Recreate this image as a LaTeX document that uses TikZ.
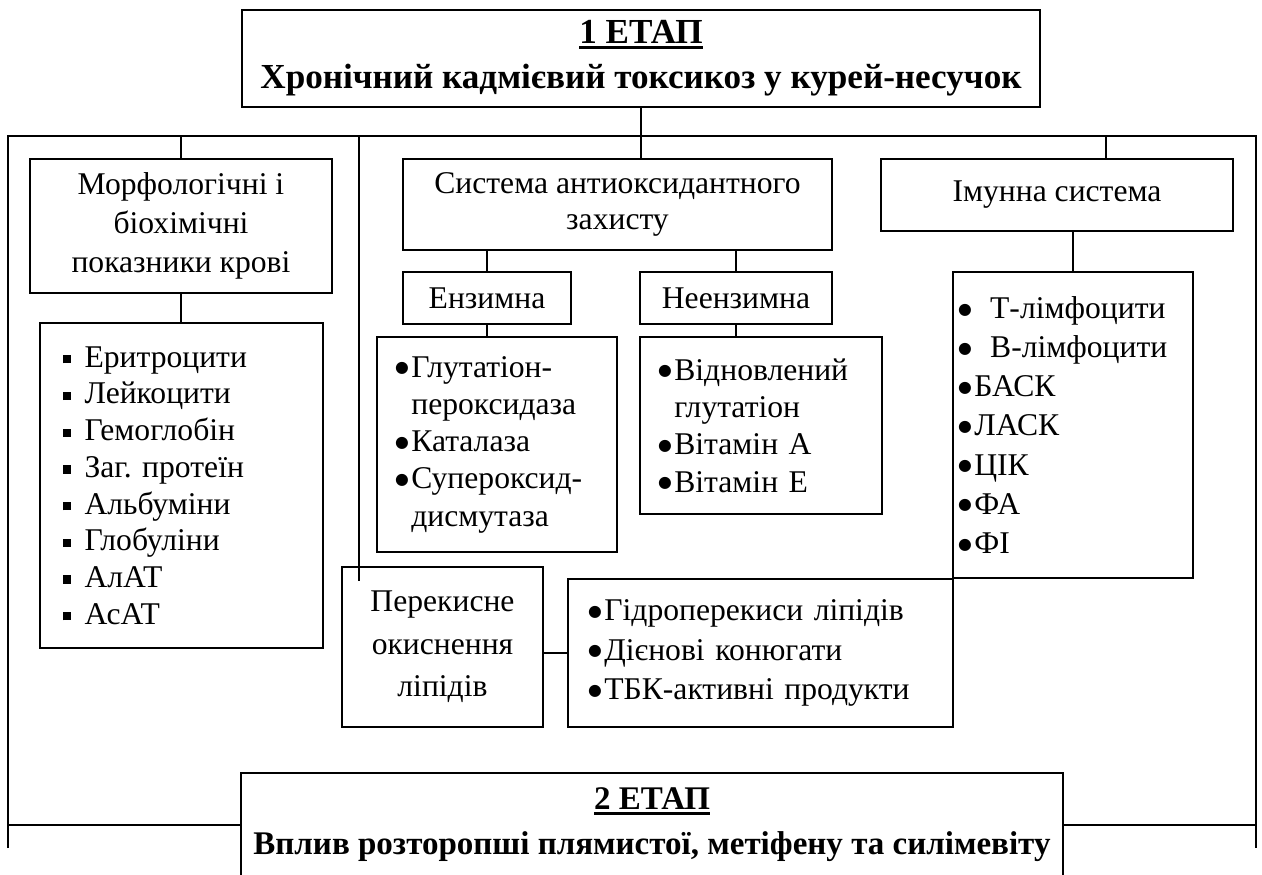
\documentclass[tikz,border=0pt]{standalone}
\usepackage{fontspec}
\setmainfont{Liberation Serif}
\newfontfamily\symfont{DejaVu Sans}
\frenchspacing

\newcommand{\sqbul}{\makebox[0.68em][l]{\raisebox{0.12em}{\rule{0.26em}{0.26em}}}}
\newcommand{\dotbul}{\raisebox{0.14em}{\symfont\fontsize{9}{9}\selectfont ●}\hspace{0.08em}}
\newcommand{\hang}{\phantom{\dotbul}}
\newcommand{\thickul}[1]{\setbox0\hbox{#1}\rlap{\rule[-0.14em]{\wd0}{0.08em}}\box0}

\tikzset{
	box/.style={rectangle, draw, line width=1.1pt, inner sep=0pt, align=center, font=\fontsize{18}{22.2}\selectfont},
	listbox/.style={box, align=left},
	titlebox/.style={box, font=\bfseries\fontsize{20}{25.6}\selectfont},
	link/.style={line width=1.1pt}
}

\begin{document}
\begin{tikzpicture}[x=0.02cm, y=-0.02cm]
	\useasboundingbox (0,0) rectangle (1262,875);

	\node[titlebox, minimum width=15.96cm, minimum height=1.94cm](stage1Box) at (641,58.5){\thickul{1 ЕТАП}\\Хронічний кадмієвий токсикоз у курей-несучок};
	\node[titlebox, draw=none, minimum width=16.4cm, minimum height=2.04cm, font=\bfseries\fontsize{18.8}{25.6}\selectfont](stage2Box) at (652,825){\thickul{2 ЕТАП}\\Вплив розторопші плямистої, метіфену та силімевіту};
	\draw[link] (stage2Box.south west) -- (stage2Box.north west) -- (stage2Box.north east) -- (stage2Box.south east);

	% outer frame
	\coordinate(busLeft) at (8,136);
	\coordinate(busRight) at (1256,136);
	\coordinate(baseLeft) at (8,848);
	\coordinate(baseRight) at (1256,848);
	\draw[link] (baseLeft) -- (busLeft) -- (busRight) -- (baseRight);
	\draw[link] (baseLeft |- stage2Box.west) -- (stage2Box.west);
	\draw[link] (stage2Box.east) -- (baseRight |- stage2Box.east);

	% draw blood boxes
	\node[box, minimum width=6.04cm, minimum height=2.68cm](morphBox) at (181,226){Морфологічні і\\біохімічні\\показники крові};
	\node[listbox, minimum width=5.66cm, minimum height=6.5cm, inner xsep=0.46cm, text width=4.74cm, font=\fontsize{18}{20.9}\selectfont](morphList) at (181.5,485.5){\sqbul Еритроцити\\\sqbul Лейкоцити\\\sqbul Гемоглобін\\\sqbul Заг. протеїн\\\sqbul Альбуміни\\\sqbul Глобуліни\\\sqbul АлАТ\\\sqbul АсАТ};
	\draw[link] (morphBox.north |- busLeft) -- (morphBox.north);
	\draw[link] (morphBox.south) -- (morphBox.south |- morphList.north);

	% draw antioxidant boxes
	\node[box, minimum width=8.58cm, minimum height=1.82cm, font=\fontsize{18}{20.5}\selectfont](antioxBox) at (617.5,204.5){Система антиоксидантного\\захисту};
	\node[box, minimum width=3.36cm, minimum height=1.04cm](enzBox) at (487,298){Ензимна};
	\node[box, minimum width=3.84cm, minimum height=1.04cm](nonEnzBox) at (736,298){Неензимна};
	\node[listbox, minimum width=4.8cm, minimum height=4.3cm, inner xsep=0.36cm, text width=4.08cm, font=\fontsize{18}{21.2}\selectfont](enzList) at (497,444.5){\dotbul Глутатіон-\\\hang пероксидаза\\\dotbul Каталаза\\\dotbul Супероксид-\\\hang дисмутаза};
	\node[listbox, minimum width=4.84cm, minimum height=3.54cm, inner xsep=0.36cm, text width=4.12cm, font=\fontsize{18}{21.2}\selectfont](nonEnzList) at (761,425.5){\dotbul Відновлений\\\hang глутатіон\\\dotbul Вітамін А\\\dotbul Вітамін Е};
	\draw[link] (stage1Box.south) -- (stage1Box.south |- antioxBox.north);
	\draw[link] (enzBox.north |- antioxBox.south) -- (enzBox.north);
	\draw[link] (nonEnzBox.north |- antioxBox.south) -- (nonEnzBox.north);
	\draw[link] (enzBox.south) -- (enzBox.south |- enzList.north);
	\draw[link] (nonEnzBox.south) -- (nonEnzBox.south |- nonEnzList.north);

	% draw immune boxes
	\coordinate(immuneTap) at (1106,136);
	\node[box, minimum width=7.04cm, minimum height=1.44cm](immuneBox) at (1057,195){Імунна система};
	\node[listbox, minimum width=4.8cm, minimum height=6.12cm, inner xsep=0.1cm, text width=4.6cm, font=\fontsize{18}{22.3}\selectfont](immuneList) at (1073,425){\dotbul\hspace{0.5em}Т-лімфоцити\\\dotbul\hspace{0.5em}В-лімфоцити\\\dotbul БАСК\\\dotbul ЛАСК\\\dotbul ЦІК\\\dotbul ФА\\\dotbul ФІ};
	\draw[link] (immuneTap) -- (immuneTap |- immuneBox.north);
	\draw[link] (immuneList.north |- immuneBox.south) -- (immuneList.north);

	% draw lipid boxes
	\coordinate(peroxTap) at (359,136);
	\coordinate(peroxEnd) at (359,581);
	\node[box, minimum width=4.02cm, minimum height=3.2cm, font=\fontsize{18}{24.2}\selectfont](peroxBox) at (442.5,647){Перекисне\\окиснення\\ліпідів};
	\node[listbox, minimum width=7.7cm, minimum height=2.96cm, inner xsep=0.4cm, text width=6.9cm, font=\fontsize{18}{22.5}\selectfont](lipidList) at (760.5,653){\dotbul Гідроперекиси ліпідів\\\dotbul Дієнові конюгати\\\dotbul ТБК-активні продукти};
	\draw[link] (peroxTap) -- (peroxEnd);
	\draw[link] (peroxBox.east |- lipidList.west) -- (lipidList.west);
\end{tikzpicture}
\end{document}
